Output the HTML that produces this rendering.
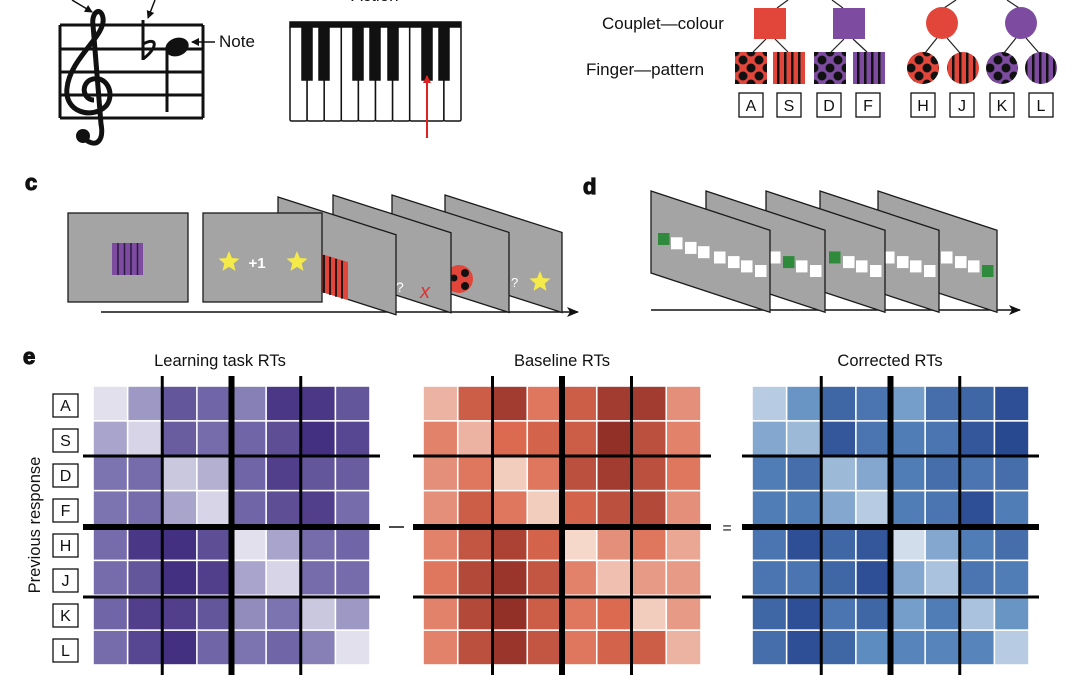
<!DOCTYPE html>
<html><head><meta charset="utf-8"><style>
html,body{margin:0;padding:0;background:#fff;}
svg{display:block;font-family:"Liberation Sans",sans-serif;}
</style></head><body>
<svg id="s" width="1080" height="675" viewBox="0 0 1080 675" xmlns="http://www.w3.org/2000/svg">
<defs>
<pattern id="dotR" width="16" height="16" patternUnits="userSpaceOnUse" x="735" y="52"><rect width="16" height="16" fill="#e2463a"/><circle cx="0" cy="0" r="4.5" fill="#111"/><circle cx="16" cy="0" r="4.5" fill="#111"/><circle cx="0" cy="16" r="4.5" fill="#111"/><circle cx="16" cy="16" r="4.5" fill="#111"/><circle cx="8" cy="8" r="4.5" fill="#111"/></pattern>
<pattern id="dotP" width="16" height="16" patternUnits="userSpaceOnUse" x="814" y="52"><rect width="16" height="16" fill="#7d4ca0"/><circle cx="0" cy="0" r="4.5" fill="#111"/><circle cx="16" cy="0" r="4.5" fill="#111"/><circle cx="0" cy="16" r="4.5" fill="#111"/><circle cx="16" cy="16" r="4.5" fill="#111"/><circle cx="8" cy="8" r="4.5" fill="#111"/></pattern>
<pattern id="stR" width="7" height="10" patternUnits="userSpaceOnUse" x="773" y="0"><rect width="7" height="10" fill="#e2463a"/><rect x="4" width="2.5" height="10" fill="#111"/></pattern>
<pattern id="stP" width="7" height="10" patternUnits="userSpaceOnUse" x="853" y="0"><rect width="7" height="10" fill="#7d4ca0"/><rect x="4" width="2.5" height="10" fill="#111"/></pattern>
<marker id="ah" markerWidth="8" markerHeight="8" refX="7" refY="4" orient="auto" markerUnits="userSpaceOnUse"><path d="M0,0 L8,4 L0,8 z" fill="#111"/></marker>
<marker id="ahr" markerWidth="8" markerHeight="8" refX="7" refY="4" orient="auto" markerUnits="userSpaceOnUse"><path d="M0,0 L8,4 L0,8 z" fill="#d22"/></marker>
<marker id="ahb" markerWidth="12" markerHeight="10" refX="11" refY="5" orient="auto" markerUnits="userSpaceOnUse"><path d="M0,0 L12,5 L0,10 L3,5 z" fill="#111"/></marker>
</defs>

<g stroke="#111" stroke-width="3" fill="none">
<line x1="60" y1="25" x2="203" y2="25"/><line x1="60" y1="49" x2="203" y2="49"/><line x1="60" y1="72" x2="203" y2="72"/><line x1="60" y1="95" x2="203" y2="95"/><line x1="60" y1="118" x2="203" y2="118"/>
<line x1="60" y1="25" x2="60" y2="118"/><line x1="203" y1="25" x2="203" y2="118"/>
</g>
<path d="M86 140 C97 148 104 140 101 124 L93 25 C91 12 101 6 103 18 C106 36 70 58 67 88 C64 112 92 120 106 106 C116 94 106 73 90 80 C80 86 84 100 94 100" stroke="#111" stroke-width="5" fill="none"/>
<circle cx="83" cy="136" r="7" fill="#111"/>
<line x1="143" y1="20" x2="143" y2="60" stroke="#111" stroke-width="3"/>
<path d="M143 59 C158 48 158 36 143 44" stroke="#111" stroke-width="3" fill="none"/>
<ellipse cx="177" cy="47" rx="12" ry="9" transform="rotate(-20 177 47)" fill="#111"/>
<line x1="167" y1="50" x2="167" y2="112" stroke="#111" stroke-width="3"/>
<line x1="72" y1="0" x2="92" y2="12" stroke="#111" stroke-width="1.5" marker-end="url(#ah)"/>
<line x1="155" y1="0" x2="148" y2="18" stroke="#111" stroke-width="1.5" marker-end="url(#ah)"/>
<line x1="215" y1="42" x2="192" y2="42" stroke="#111" stroke-width="1.5" marker-end="url(#ah)"/>
<text x="219" y="47" font-size="17" fill="#111">Note</text>

<text x="375" y="1" font-size="17" text-anchor="middle" fill="#111">Action</text>
<g stroke="#111" stroke-width="1.5" fill="#fff" id="piano"></g>
<line x1="427" y1="138" x2="427" y2="76" stroke="#d22" stroke-width="2" marker-end="url(#ahr)"/>

<text x="602" y="29" font-size="17" fill="#111">Couplet—colour</text>
<text x="586" y="75" font-size="17" fill="#111">Finger—pattern</text>
<g stroke="#222" stroke-width="1.2">
<line x1="777" y1="8" x2="788" y2="0"/><line x1="843" y1="8" x2="832" y2="0"/>
<line x1="944" y1="8" x2="956" y2="0"/><line x1="1019" y1="8" x2="1007" y2="0"/>
<line x1="766" y1="39" x2="753" y2="52"/><line x1="775" y1="39" x2="788" y2="52"/>
<line x1="844" y1="39" x2="831" y2="52"/><line x1="853" y1="39" x2="867" y2="52"/>
<line x1="937" y1="38" x2="925" y2="53"/><line x1="947" y1="38" x2="960" y2="53"/>
<line x1="1016" y1="38" x2="1004" y2="53"/><line x1="1026" y1="38" x2="1039" y2="53"/>
</g>
<rect x="754" y="8" width="32" height="31" fill="#e2463a"/>
<rect x="833" y="8" width="32" height="31" fill="#7d4ca0"/>
<circle cx="942" cy="23" r="16" fill="#e2463a"/>
<circle cx="1021" cy="23" r="16" fill="#7d4ca0"/>
<rect x="735" y="52" width="32" height="32" fill="url(#dotR)"/>
<rect x="773" y="52" width="32" height="32" fill="url(#stR)"/>
<rect x="814" y="52" width="32" height="32" fill="url(#dotP)"/>
<rect x="853" y="52" width="32" height="32" fill="url(#stP)"/>
<circle cx="923" cy="68" r="16" fill="#e2463a"/>
<circle cx="923" cy="68" r="16" fill="url(#dotR)"/>
<circle cx="963" cy="68" r="16" fill="url(#stR)"/>
<circle cx="1002" cy="68" r="16" fill="url(#dotP)"/>
<circle cx="1041" cy="68" r="16" fill="url(#stP)"/>

<text x="25" y="190" font-size="22" font-weight="bold" fill="#111" stroke="#111" stroke-width="1.2">c</text>
<text x="583" y="194" font-size="22" font-weight="bold" fill="#111" stroke="#111" stroke-width="1.2">d</text>
<text x="23" y="364" font-size="22" font-weight="bold" fill="#111" stroke="#111" stroke-width="1.2">e</text>

<g id="pc"></g>
<g id="pd"></g>

<text x="220" y="366" font-size="16.5" text-anchor="middle" fill="#111">Learning task RTs</text>
<text x="562" y="366" font-size="16.5" text-anchor="middle" fill="#111">Baseline RTs</text>
<text x="890" y="366" font-size="16.5" text-anchor="middle" fill="#111">Corrected RTs</text>
<text transform="translate(40,525) rotate(-90)" font-size="16.5" text-anchor="middle" fill="#111">Previous response</text>
<line x1="389" y1="527" x2="404" y2="527" stroke="#111" stroke-width="1.5"/>
<text x="727" y="533" font-size="16" text-anchor="middle" fill="#111">=</text>
<g id="he"></g>
<g font-size="16" text-anchor="middle" fill="#111">
<rect x="53" y="394" width="25" height="23" fill="#fff" stroke="#111" stroke-width="1.3"/><text x="65.5" y="411">A</text>
<rect x="53" y="429" width="25" height="23" fill="#fff" stroke="#111" stroke-width="1.3"/><text x="65.5" y="446">S</text>
<rect x="53" y="464" width="25" height="23" fill="#fff" stroke="#111" stroke-width="1.3"/><text x="65.5" y="481">D</text>
<rect x="53" y="499" width="25" height="23" fill="#fff" stroke="#111" stroke-width="1.3"/><text x="65.5" y="516">F</text>
<rect x="53" y="534" width="25" height="23" fill="#fff" stroke="#111" stroke-width="1.3"/><text x="65.5" y="551">H</text>
<rect x="53" y="569" width="25" height="23" fill="#fff" stroke="#111" stroke-width="1.3"/><text x="65.5" y="586">J</text>
<rect x="53" y="604" width="25" height="23" fill="#fff" stroke="#111" stroke-width="1.3"/><text x="65.5" y="621">K</text>
<rect x="53" y="639" width="25" height="23" fill="#fff" stroke="#111" stroke-width="1.3"/><text x="65.5" y="656">L</text>
</g>
<g font-size="16" text-anchor="middle" fill="#111">
<rect x="739" y="93" width="24" height="24" fill="#fff" stroke="#111" stroke-width="1.3"/><text x="751" y="111">A</text>
<rect x="777" y="93" width="24" height="24" fill="#fff" stroke="#111" stroke-width="1.3"/><text x="789" y="111">S</text>
<rect x="817" y="93" width="24" height="24" fill="#fff" stroke="#111" stroke-width="1.3"/><text x="829" y="111">D</text>
<rect x="856" y="93" width="24" height="24" fill="#fff" stroke="#111" stroke-width="1.3"/><text x="868" y="111">F</text>
<rect x="911" y="93" width="24" height="24" fill="#fff" stroke="#111" stroke-width="1.3"/><text x="923" y="111">H</text>
<rect x="950" y="93" width="24" height="24" fill="#fff" stroke="#111" stroke-width="1.3"/><text x="962" y="111">J</text>
<rect x="990" y="93" width="24" height="24" fill="#fff" stroke="#111" stroke-width="1.3"/><text x="1002" y="111">K</text>
<rect x="1029" y="93" width="24" height="24" fill="#fff" stroke="#111" stroke-width="1.3"/><text x="1041" y="111">L</text>
</g>
</svg>
<script>
var NS="http://www.w3.org/2000/svg";
function el(p,t,a){var e=document.createElementNS(NS,t);for(var k in a)e.setAttribute(k,a[k]);p.appendChild(e);return e;}
var pg=document.getElementById('piano');
var kw=17.1;
for(var i=0;i<10;i++)el(pg,'rect',{x:290+i*kw,y:26,width:kw,height:95,rx:1.5});
[307,324,358,375,393,427,444].forEach(function(c){el(pg,'rect',{x:c-5,y:26,width:10,height:54,fill:'#111'});});
el(pg,'rect',{x:290,y:22,width:171,height:5,fill:'#111'});
function para(g,L,T,R,h,s){var d=(R-L)*s;return el(g,'polygon',{points:L+','+T+' '+R+','+(T+d)+' '+R+','+(T+d+h)+' '+L+','+(T+h),fill:'#a4a4a4',stroke:'#1a1a1a','stroke-width':1.3});}
function star(g,cx,cy,r){var p=[];for(var i=0;i<10;i++){var a=-Math.PI/2+i*Math.PI/5,rr=i%2?r*0.45:r;p.push((cx+rr*Math.cos(a)).toFixed(1)+','+(cy+rr*Math.sin(a)).toFixed(1));}el(g,'polygon',{points:p.join(' '),fill:'#f4ea4a'});}
var pc=document.getElementById('pc');
el(pc,'line',{x1:101,y1:312,x2:578,y2:312,stroke:'#111','stroke-width':1.5,'marker-end':'url(#ahb)'});
para(pc,445,195,562,80,0.32);star(pc,540,282,11);
para(pc,392,195,509,80,0.32);
el(pc,'text',{x:511,y:287,'font-size':13,fill:'#fff'}).textContent='?';
el(pc,'circle',{cx:459,cy:279,r:14,fill:'#e2463a'});
el(pc,'circle',{cx:465,cy:273,r:4,fill:'#111'});el(pc,'circle',{cx:465,cy:286,r:4,fill:'#111'});el(pc,'circle',{cx:454,cy:278,r:3.5,fill:'#111'});
para(pc,333,195,451,80,0.32);
el(pc,'text',{x:396,y:292,'font-size':14,fill:'#fff'}).textContent='?';
el(pc,'text',{x:425,y:298,'font-size':20,fill:'#d33','text-anchor':'middle','font-style':'italic'}).textContent='x';
para(pc,278,197,396,80,0.32);
el(pc,'polygon',{points:'318,253 348,262 348,300 318,291',fill:'#e2463a'});
for(var i=0;i<4;i++)el(pc,'line',{x1:324+i*6,y1:255+i*1.9,x2:324+i*6,y2:293+i*1.9,stroke:'#111','stroke-width':1.8});
el(pc,'rect',{x:203,y:213,width:119,height:89,fill:'#a4a4a4',stroke:'#1a1a1a','stroke-width':1.3});
star(pc,229,262,11);star(pc,297,262,11);
el(pc,'text',{x:257,y:268,'font-size':15,fill:'#fff','text-anchor':'middle','font-weight':'bold'}).textContent='+1';
el(pc,'rect',{x:68,y:213,width:120,height:89,fill:'#a4a4a4',stroke:'#1a1a1a','stroke-width':1.3});
el(pc,'rect',{x:112,y:243,width:31,height:32,fill:'#7d4ca0'});
for(var i=0;i<4;i++)el(pc,'line',{x1:118+i*6.5,y1:243,x2:118+i*6.5,y2:275,stroke:'#2a1a40','stroke-width':1.5});
var pd=document.getElementById('pd');
el(pd,'line',{x1:651,y1:310,x2:1020,y2:310,stroke:'#111','stroke-width':1.5,'marker-end':'url(#ahb)'});
var offs=[0,55,115,169,227],greens=[0,5,4,1,7],sx=[658,671,685,698,714,728,741,755];
for(var k=4;k>=0;k--){var o=offs[k];para(pd,651+o,191,770+o,82,0.33);
for(var j=0;j<8;j++){var x=sx[j]+o,y=233+(sx[j]-658)*0.33;el(pd,'rect',{x:x,y:y,width:11.5,height:12,fill:j==greens[k]?'#2f8a3c':'#fff'});}}
var P=[[.05,.35,.7,.6,.45,.9,.9,.7],[.3,.1,.65,.55,.6,.75,.95,.8],[.5,.55,.15,.25,.6,.85,.7,.65],[.5,.55,.3,.1,.6,.75,.85,.55],[.55,.9,.95,.75,.05,.3,.55,.6],[.55,.7,.95,.85,.3,.1,.55,.55],[.6,.85,.85,.7,.4,.5,.15,.35],[.55,.8,.95,.6,.5,.6,.45,.05]];
var R=[[.2,.6,.85,.45,.6,.85,.85,.35],[.4,.2,.5,.55,.6,.95,.7,.4],[.35,.45,.1,.45,.7,.85,.7,.45],[.35,.6,.45,.1,.55,.7,.75,.35],[.4,.65,.8,.55,.05,.35,.45,.25],[.45,.75,.9,.65,.4,.15,.3,.3],[.4,.75,.95,.6,.45,.5,.1,.3],[.4,.7,.9,.65,.45,.55,.6,.2]];
var B=[[.15,.45,.75,.65,.4,.7,.75,.9],[.35,.25,.85,.65,.6,.65,.85,.95],[.6,.7,.25,.35,.6,.7,.65,.7],[.6,.6,.35,.15,.6,.65,.9,.6],[.65,.9,.75,.85,.05,.35,.6,.7],[.65,.65,.75,.9,.35,.2,.65,.6],[.75,.9,.65,.75,.4,.6,.2,.45],[.7,.9,.75,.5,.55,.55,.55,.15]];
function lerp(a,b,t){return a.map(function(v,i){return Math.round(v+(b[i]-v)*t);});}
function cmap(s,t){var c=t<.5?lerp(s[0],s[1],t*2):lerp(s[1],s[2],(t-.5)*2);return 'rgb('+c.join(',')+')';}
var SP=[[236,236,243],[124,116,176],[62,40,124]],SR=[[248,228,216],[220,106,80],[138,40,34]],SB=[[222,230,240],[92,140,192],[34,64,138]];
var he=document.getElementById('he');
function heat(M,S,x0,x1){var cw=(x1-x0)/8,ch=(665-386)/8;
for(var r=0;r<8;r++)for(var c=0;c<8;c++)el(he,'rect',{x:x0+c*cw+.8,y:386+r*ch+.8,width:cw-1.6,height:ch-1.6,fill:cmap(S,M[r][c])});
var vx=[x0+2*cw,x0+4*cw,x0+6*cw];
[456,597].forEach(function(y){el(he,'line',{x1:x0-10,y1:y,x2:x1+10,y2:y,stroke:'#000','stroke-width':3});});
el(he,'line',{x1:x0-10,y1:527,x2:x1+10,y2:527,stroke:'#000','stroke-width':6});
el(he,'line',{x1:vx[0],y1:376,x2:vx[0],y2:675,stroke:'#000','stroke-width':3});
el(he,'line',{x1:vx[2],y1:376,x2:vx[2],y2:675,stroke:'#000','stroke-width':3});
el(he,'line',{x1:vx[1],y1:376,x2:vx[1],y2:675,stroke:'#000','stroke-width':6});}
heat(P,SP,93,370);heat(R,SR,423,701);heat(B,SB,752,1029);
</script>
</body></html>
